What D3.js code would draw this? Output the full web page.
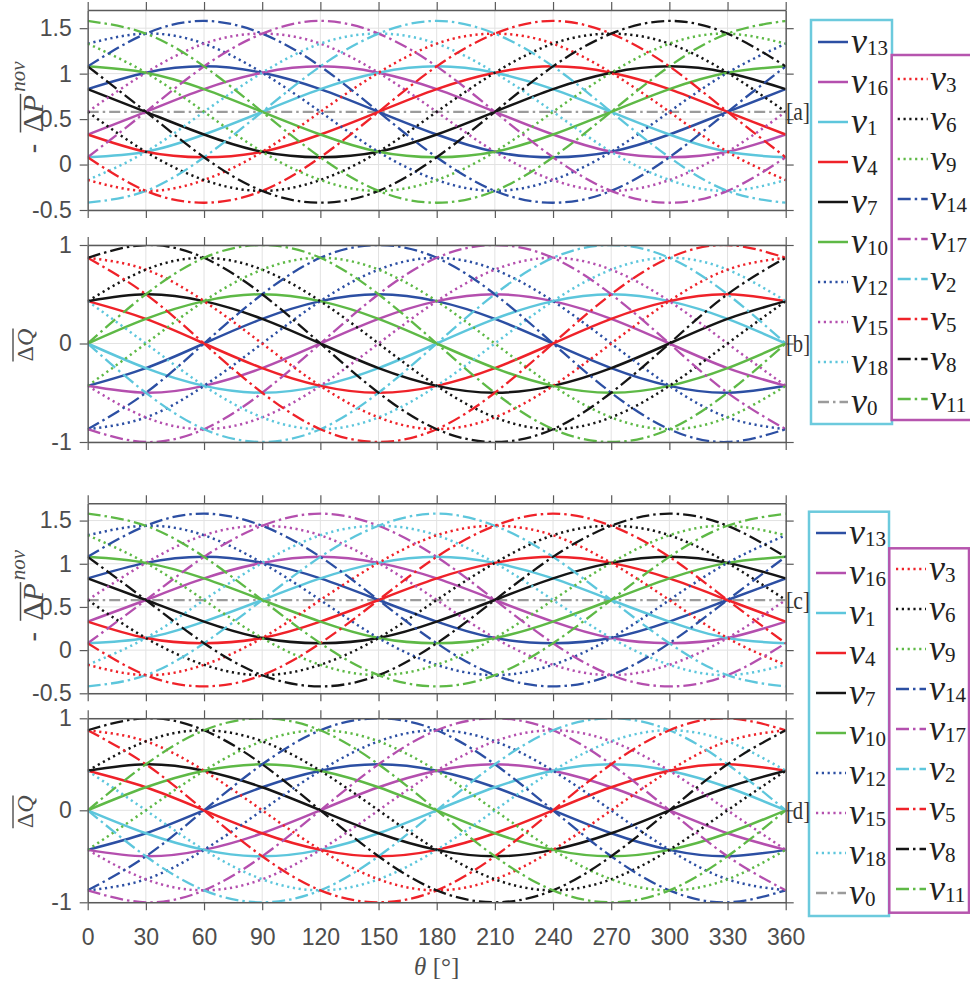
<!DOCTYPE html>
<html>
<head>
<meta charset="utf-8">
<script src="https://cdn.jsdelivr.net/npm/d3@7"></script>
<style>
  body { margin: 0; background: #fff; }
</style>
</head>
<body>
<svg id="chart" width="970" height="982"></svg>
<script>
// sample angles (deg) and tick values
var theta = [0, 30, 60, 90, 120, 150, 180, 210, 240, 270, 300, 330, 360];
var xTicks = [0, 30, 60, 90, 120, 150, 180, 210, 240, 270, 300, 330, 360];
var pTicks = [-0.5, 0, 0.5, 1, 1.5];
var qTicks = [-1, 0, 1];

// -ΔP^nov, read at every 30°
var p_v13 = [0.83, 1.01, 1.08, 1.01, 0.83, 0.58, 0.33, 0.14, 0.08, 0.14, 0.33, 0.58, 0.83];
var p_v16 = [0.33, 0.58, 0.83, 1.01, 1.08, 1.01, 0.83, 0.58, 0.33, 0.14, 0.08, 0.14, 0.33];
var p_v1  = [0.08, 0.14, 0.33, 0.58, 0.83, 1.01, 1.08, 1.01, 0.83, 0.58, 0.33, 0.14, 0.08];
var p_v4  = [0.33, 0.14, 0.08, 0.14, 0.33, 0.58, 0.83, 1.01, 1.08, 1.01, 0.83, 0.58, 0.33];
var p_v7  = [0.83, 0.58, 0.33, 0.14, 0.08, 0.14, 0.33, 0.58, 0.83, 1.01, 1.08, 1.01, 0.83];
var p_v10 = [1.08, 1.01, 0.83, 0.58, 0.33, 0.14, 0.08, 0.14, 0.33, 0.58, 0.83, 1.01, 1.08];
var p_v12 = [1.33, 1.44, 1.33, 1.01, 0.58, 0.14, -0.17, -0.29, -0.17, 0.14, 0.58, 1.01, 1.33];
var p_v15 = [0.58, 1.01, 1.33, 1.44, 1.33, 1.01, 0.58, 0.14, -0.17, -0.29, -0.17, 0.14, 0.58];
var p_v18 = [-0.17, 0.14, 0.58, 1.01, 1.33, 1.44, 1.33, 1.01, 0.58, 0.14, -0.17, -0.29, -0.17];
var p_v3  = [-0.17, -0.29, -0.17, 0.14, 0.58, 1.01, 1.33, 1.44, 1.33, 1.01, 0.58, 0.14, -0.17];
var p_v6  = [0.58, 0.14, -0.17, -0.29, -0.17, 0.14, 0.58, 1.01, 1.33, 1.44, 1.33, 1.01, 0.58];
var p_v9  = [1.33, 1.01, 0.58, 0.14, -0.17, -0.29, -0.17, 0.14, 0.58, 1.01, 1.33, 1.44, 1.33];
var p_v14 = [1.08, 1.44, 1.58, 1.44, 1.08, 0.58, 0.08, -0.29, -0.42, -0.29, 0.08, 0.58, 1.08];
var p_v17 = [0.08, 0.58, 1.08, 1.44, 1.58, 1.44, 1.08, 0.58, 0.08, -0.29, -0.42, -0.29, 0.08];
var p_v2  = [-0.42, -0.29, 0.08, 0.58, 1.08, 1.44, 1.58, 1.44, 1.08, 0.58, 0.08, -0.29, -0.42];
var p_v5  = [0.08, -0.29, -0.42, -0.29, 0.08, 0.58, 1.08, 1.44, 1.58, 1.44, 1.08, 0.58, 0.08];
var p_v8  = [1.08, 0.58, 0.08, -0.29, -0.42, -0.29, 0.08, 0.58, 1.08, 1.44, 1.58, 1.44, 1.08];
var p_v11 = [1.58, 1.44, 1.08, 0.58, 0.08, -0.29, -0.42, -0.29, 0.08, 0.58, 1.08, 1.44, 1.58];
var p_v0  = [0.58, 0.58, 0.58, 0.58, 0.58, 0.58, 0.58, 0.58, 0.58, 0.58, 0.58, 0.58, 0.58];

// ΔQ, read at every 30°
var q_v13 = [-0.43, -0.25, 0, 0.25, 0.43, 0.5, 0.43, 0.25, 0, -0.25, -0.43, -0.5, -0.43];
var q_v16 = [-0.43, -0.5, -0.43, -0.25, 0, 0.25, 0.43, 0.5, 0.43, 0.25, 0, -0.25, -0.43];
var q_v1  = [0, -0.25, -0.43, -0.5, -0.43, -0.25, 0, 0.25, 0.43, 0.5, 0.43, 0.25, 0];
var q_v4  = [0.43, 0.25, 0, -0.25, -0.43, -0.5, -0.43, -0.25, 0, 0.25, 0.43, 0.5, 0.43];
var q_v7  = [0.43, 0.5, 0.43, 0.25, 0, -0.25, -0.43, -0.5, -0.43, -0.25, 0, 0.25, 0.43];
var q_v10 = [0, 0.25, 0.43, 0.5, 0.43, 0.25, 0, -0.25, -0.43, -0.5, -0.43, -0.25, 0];
var q_v12 = [-0.87, -0.75, -0.43, 0, 0.43, 0.75, 0.87, 0.75, 0.43, 0, -0.43, -0.75, -0.87];
var q_v15 = [-0.43, -0.75, -0.87, -0.75, -0.43, 0, 0.43, 0.75, 0.87, 0.75, 0.43, 0, -0.43];
var q_v18 = [0.43, 0, -0.43, -0.75, -0.87, -0.75, -0.43, 0, 0.43, 0.75, 0.87, 0.75, 0.43];
var q_v3  = [0.87, 0.75, 0.43, 0, -0.43, -0.75, -0.87, -0.75, -0.43, 0, 0.43, 0.75, 0.87];
var q_v6  = [0.43, 0.75, 0.87, 0.75, 0.43, 0, -0.43, -0.75, -0.87, -0.75, -0.43, 0, 0.43];
var q_v9  = [-0.43, 0, 0.43, 0.75, 0.87, 0.75, 0.43, 0, -0.43, -0.75, -0.87, -0.75, -0.43];
var q_v14 = [-0.87, -0.5, 0, 0.5, 0.87, 1, 0.87, 0.5, 0, -0.5, -0.87, -1, -0.87];
var q_v17 = [-0.87, -1, -0.87, -0.5, 0, 0.5, 0.87, 1, 0.87, 0.5, 0, -0.5, -0.87];
var q_v2  = [0, -0.5, -0.87, -1, -0.87, -0.5, 0, 0.5, 0.87, 1, 0.87, 0.5, 0];
var q_v5  = [0.87, 0.5, 0, -0.5, -0.87, -1, -0.87, -0.5, 0, 0.5, 0.87, 1, 0.87];
var q_v8  = [0.87, 1, 0.87, 0.5, 0, -0.5, -0.87, -1, -0.87, -0.5, 0, 0.5, 0.87];
var q_v11 = [0, 0.5, 0.87, 1, 0.87, 0.5, 0, -0.5, -0.87, -1, -0.87, -0.5, 0];

var legend1Names = ["v13", "v16", "v1", "v4", "v7", "v10", "v12", "v15", "v18", "v0"];
var legend2Names = ["v3", "v6", "v9", "v14", "v17", "v2", "v5", "v8", "v11"];

var P = { v13: p_v13, v16: p_v16, v1: p_v1, v4: p_v4, v7: p_v7, v10: p_v10,
          v12: p_v12, v15: p_v15, v18: p_v18, v3: p_v3, v6: p_v6, v9: p_v9,
          v14: p_v14, v17: p_v17, v2: p_v2, v5: p_v5, v8: p_v8, v11: p_v11, v0: p_v0 };
var Q = { v13: q_v13, v16: q_v16, v1: q_v1, v4: q_v4, v7: q_v7, v10: q_v10,
          v12: q_v12, v15: q_v15, v18: q_v18, v3: q_v3, v6: q_v6, v9: q_v9,
          v14: q_v14, v17: q_v17, v2: q_v2, v5: q_v5, v8: q_v8, v11: q_v11 };

// styles
var BLUE = "#2c4fa3", MAG = "#b44fae", CYAN = "#5dc6dc", RED = "#ef2229",
    BLACK = "#151515", GREEN = "#5eb946", GRAY = "#9b9b9b";
var SANS = "'Liberation Sans', Arial, Helvetica, sans-serif";
var SERIF = "'Liberation Serif', 'Times New Roman', serif";
var AXIS = "#5a5a5a", TICKTXT = "#4d4d4d";

var DOT = "2.2,3.6", DASHDOT = "13,4,2.5,4";
var styles = {
  v13: [BLUE, null], v16: [MAG, null], v1: [CYAN, null], v4: [RED, null], v7: [BLACK, null], v10: [GREEN, null],
  v12: [BLUE, DOT], v15: [MAG, DOT], v18: [CYAN, DOT], v3: [RED, DOT], v6: [BLACK, DOT], v9: [GREEN, DOT],
  v14: [BLUE, DASHDOT], v17: [MAG, DASHDOT], v2: [CYAN, DASHDOT], v5: [RED, DASHDOT], v8: [BLACK, DASHDOT], v11: [GREEN, DASHDOT],
  v0: [GRAY, "11,4,2.5,4"]
};
function lineWidth(name) {
  var s = styles[name][1];
  return s === null ? 2.5 : (s === DOT ? 2.5 : 2.3);
}

var svg = d3.select("#chart");
var x = d3.scaleLinear().domain([0, 360]).range([87.7, 785.7]);

var panels = [
  { tag: "a", top: 10, bottom: 210, dom: [-0.5, 1.7], ticks: pTicks, data: P, mark: 0.58 },
  { tag: "b", top: 245, bottom: 442, dom: [-1, 1], ticks: qTicks, data: Q, mark: 0 },
  { tag: "c", top: 503.3, bottom: 693.3, dom: [-0.5, 1.7], ticks: pTicks, data: P, mark: 0.58 },
  { tag: "d", top: 718.3, bottom: 902.3, dom: [-1, 1], ticks: qTicks, data: Q, mark: 0, xlabels: true }
];

var drawOrder = ["v0"].concat(legend1Names.slice(0, 9), legend2Names);
var tagPos = [];

panels.forEach(function (p, pi) {
  var y = d3.scaleLinear().domain(p.dom).range([p.bottom, p.top]);
  var g = svg.append("g");

  svg.append("clipPath").attr("id", "clip" + pi)
    .append("rect").attr("x", x(0)).attr("y", p.top)
    .attr("width", x(360) - x(0)).attr("height", p.bottom - p.top);

  // grid
  g.append("g").selectAll("line").data(xTicks).enter().append("line")
    .attr("x1", d => x(d)).attr("x2", d => x(d))
    .attr("y1", p.top).attr("y2", p.bottom)
    .attr("stroke", "#e2e2e2").attr("stroke-width", 1);
  g.append("g").selectAll("line").data(p.ticks).enter().append("line")
    .attr("x1", x(0)).attr("x2", x(360))
    .attr("y1", d => y(d)).attr("y2", d => y(d))
    .attr("stroke", "#e2e2e2").attr("stroke-width", 1);

  // curves
  var line = d3.line()
    .x((d, i) => x(theta[i]))
    .y(d => y(d))
    .curve(d3.curveNatural);
  var cg = g.append("g").attr("clip-path", "url(#clip" + pi + ")");
  drawOrder.forEach(function (name) {
    if (!p.data[name]) return;
    cg.append("path")
      .attr("d", line(p.data[name]))
      .attr("fill", "none")
      .attr("stroke", styles[name][0])
      .attr("stroke-width", lineWidth(name))
      .attr("stroke-dasharray", styles[name][1]);
  });

  // axes (ticks outward on all sides)
  var left = g.append("g").attr("transform", "translate(" + x(0) + ",0)")
    .call(d3.axisLeft(y).tickValues(p.ticks).tickSize(8).tickPadding(8).tickSizeOuter(0).tickFormat(String));
  var right = g.append("g").attr("transform", "translate(" + x(360) + ",0)")
    .call(d3.axisRight(y).tickValues(p.ticks).tickSize(8).tickSizeOuter(0).tickFormat(""));
  var top = g.append("g").attr("transform", "translate(0," + p.top + ")")
    .call(d3.axisTop(x).tickValues(xTicks).tickSize(8).tickSizeOuter(0).tickFormat(""));
  var bottom = g.append("g").attr("transform", "translate(0," + p.bottom + ")")
    .call(d3.axisBottom(x).tickValues(xTicks).tickSize(8).tickPadding(18).tickSizeOuter(0)
      .tickFormat(p.xlabels ? String : ""));
  [left, right, top, bottom].forEach(function (a) {
    a.select(".domain").attr("stroke", AXIS).attr("stroke-width", 1.4);
    a.selectAll(".tick line").attr("stroke", AXIS).attr("stroke-width", 1.2);
    a.selectAll(".tick text").attr("fill", TICKTXT).attr("font-family", SANS).attr("font-size", 23);
  });

  tagPos.push({ tag: p.tag, y: y(p.mark) });

  // y label
  var cy = (p.top + p.bottom) / 2;
  if (p.data === P) pLabel(cy - 2.5); else qLabel(cy + 1.5);
});

function measure(parent, txt, size, family, italic) {
  var t = parent.append("text").attr("font-family", family).attr("font-size", size)
    .attr("font-style", italic ? "italic" : "normal").attr("fill", TICKTXT).text(txt);
  return { node: t, w: t.node().getComputedTextLength() };
}

function pLabel(cy) {
  var lg = svg.append("g").attr("transform", "translate(43," + cy + ") rotate(-90)");
  var minus = measure(lg, "-", 30, SANS, false);
  var delta = measure(lg, "\u0394", 30, SERIF, false);
  var pp = measure(lg, "P", 30, SERIF, true);
  var nov = measure(lg, "nov", 21, SERIF, true);
  var gap = 11;
  var total = minus.w + gap + delta.w + pp.w + 3 + nov.w;
  var s = -total / 2;
  minus.node.attr("x", s);
  var d0 = s + minus.w + gap;
  delta.node.attr("x", d0);
  pp.node.attr("x", d0 + delta.w);
  nov.node.attr("x", d0 + delta.w + pp.w + 3).attr("y", -18);
  lg.append("line").attr("x1", d0).attr("x2", d0 + delta.w + pp.w + 1)
    .attr("y1", -22.5).attr("y2", -22.5).attr("stroke", TICKTXT).attr("stroke-width", 1.5);
}

function qLabel(cy) {
  var lg = svg.append("g").attr("transform", "translate(33," + cy + ") rotate(-90)");
  var delta = measure(lg, "\u0394", 24, SERIF, false);
  var qq = measure(lg, "Q", 24, SERIF, true);
  var w = delta.w + qq.w;
  delta.node.attr("x", -w / 2);
  qq.node.attr("x", -w / 2 + delta.w);
  lg.append("line").attr("x1", -w / 2).attr("x2", w / 2)
    .attr("y1", -20).attr("y2", -20).attr("stroke", TICKTXT).attr("stroke-width", 1.4);
}

// x label
var xl = svg.append("text").attr("x", x(180)).attr("y", 975)
  .attr("text-anchor", "middle").attr("font-family", SERIF).attr("font-size", 25).attr("fill", TICKTXT);
xl.append("tspan").attr("font-style", "italic").text("\u03b8");
xl.append("tspan").text(" [\u00b0]");

// legends
var legends = [
  { names: legend1Names, x0: 811, y0: 20, x1: 892, y1: 424, row: 42, lx: 818, tx: 851, color: "#6ccadd" },
  { names: legend2Names, x0: 891.7, y0: 55, x1: 975, y1: 420, row: 79, lx: 897.7, tx: 930, color: "#b655ae" },
  { names: legend1Names, x0: 809, y0: 511.7, x1: 889, y1: 916, row: 533, lx: 816, tx: 849, color: "#6ccadd" },
  { names: legend2Names, x0: 889.3, y0: 548.3, x1: 969, y1: 912.7, row: 569, lx: 896, tx: 929, color: "#b655ae" }
];
legends.forEach(function (L) {
  var lg = svg.append("g");
  lg.append("rect").attr("x", L.x0).attr("y", L.y0)
    .attr("width", L.x1 - L.x0).attr("height", L.y1 - L.y0)
    .attr("fill", "#fff").attr("stroke", L.color).attr("stroke-width", 2.5);
  L.names.forEach(function (name, i) {
    var ry = L.row + 40 * i;
    lg.append("line").attr("x1", L.lx).attr("x2", L.lx + 30)
      .attr("y1", ry).attr("y2", ry)
      .attr("stroke", styles[name][0]).attr("stroke-width", lineWidth(name))
      .attr("stroke-dasharray", styles[name][1]);
    var t = lg.append("text").attr("x", L.tx).attr("y", ry + 11)
      .attr("font-family", SERIF).attr("fill", "#222");
    t.append("tspan").attr("font-style", "italic").attr("font-size", 36).text("v");
    t.append("tspan").attr("font-size", 21).attr("dy", 2).text(name.slice(1));
  });
});

// panel tags, on top of the legend frames
tagPos.forEach(function (tp) {
  svg.append("text")
    .attr("x", 786).attr("y", tp.y)
    .attr("dominant-baseline", "central")
    .attr("font-family", SERIF).attr("font-size", 25).attr("fill", "#333")
    .attr("textLength", 24).attr("lengthAdjust", "spacingAndGlyphs")
    .text("[" + tp.tag + "]");
});
</script>
</body>
</html>
